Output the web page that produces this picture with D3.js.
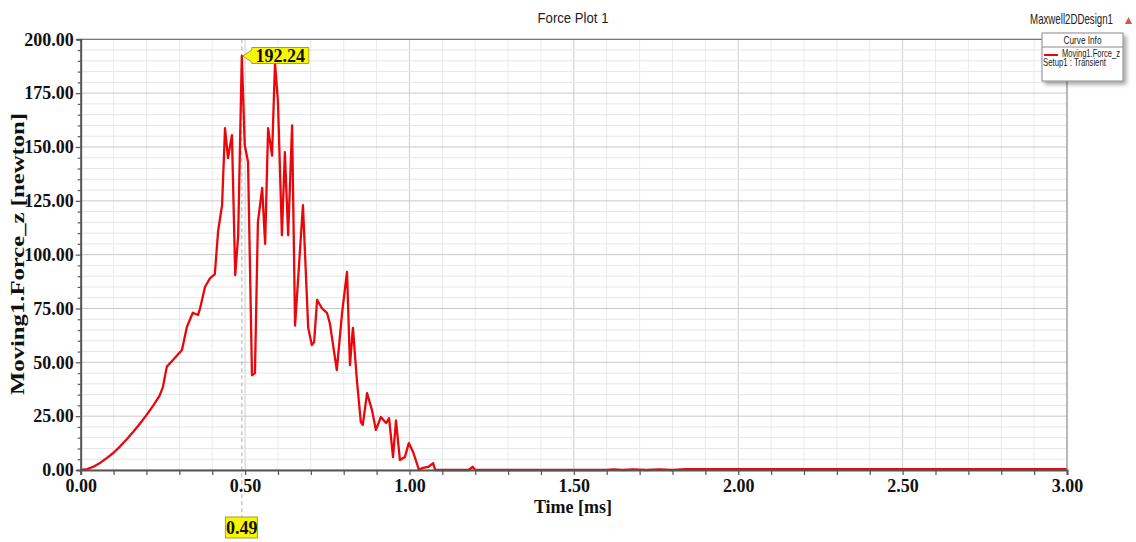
<!DOCTYPE html>
<html>
<head>
<meta charset="utf-8">
<script src="https://cdn.jsdelivr.net/npm/d3@7"></script>
<style>
  html, body { margin: 0; padding: 0; background: #ffffff; }
  svg { display: block; }
</style>
</head>
<body>
<svg id="chart" width="1136" height="542"></svg>
<script>
// Transient force on Moving1 (z component) over time
const timeMs = [
  0.000, 0.020, 0.040, 0.060, 0.080, 0.100, 0.120, 0.140, 0.160, 0.180,
  0.200, 0.220, 0.240, 0.250, 0.262, 0.280, 0.308,
  0.323, 0.341, 0.357, 0.363, 0.378, 0.393, 0.408, 0.418, 0.430, 0.439,
  0.448, 0.460, 0.470, 0.479, 0.490, 0.499, 0.509, 0.521, 0.530, 0.539,
  0.552, 0.561, 0.570, 0.582, 0.591, 0.600, 0.612, 0.621, 0.631, 0.643,
  0.652, 0.676, 0.692, 0.703, 0.710, 0.719, 0.734, 0.749, 0.758, 0.779,
  0.795, 0.810, 0.819, 0.828, 0.840, 0.852, 0.858, 0.871, 0.886, 0.898,
  0.913, 0.929, 0.938, 0.950, 0.959, 0.971, 0.986, 0.998, 1.011, 1.029,
  1.041, 1.057, 1.072, 1.078, 1.100, 1.180, 1.192, 1.200, 1.600, 1.620,
  1.650, 1.680, 1.720, 1.760, 1.800, 1.840, 3.000
];
const forceN = [
  0.0, 0.4, 1.6, 3.4, 5.6, 8.0, 11.0, 14.3, 17.8, 21.5,
  25.5, 29.8, 34.5, 38.5, 48.0, 51.0, 55.7,
  66.4, 73.0, 72.0, 75.0, 85.0, 89.0, 91.0, 111.0, 123.0, 158.7,
  144.8, 155.5, 90.5, 109.0, 192.24, 150.8, 143.0, 44.0, 45.0, 115.0,
  131.0, 105.0, 158.7, 146.0, 189.0, 171.0, 109.0, 147.6, 109.0, 160.0,
  67.0, 123.0, 66.0, 58.0, 59.4, 79.0, 75.0, 73.0, 68.0, 46.4,
  73.0, 92.0, 48.7, 66.0, 41.8, 22.3, 21.0, 35.7, 27.8, 18.6,
  24.6, 21.8, 24.0, 6.0, 23.0, 4.6, 6.0, 12.5, 8.4, 0.0,
  1.0, 1.4, 3.2, 0.0, 0.0, 0.0, 1.5, 0.0, 0.0, 0.3,
  0.0, 0.3, 0.0, 0.3, 0.0, 0.4, 0.4
];

const xTickValues = [0, 0.5, 1.0, 1.5, 2.0, 2.5, 3.0];
const xTickLabels = ["0.00", "0.50", "1.00", "1.50", "2.00", "2.50", "3.00"];
const yTickValues = [0, 25, 50, 75, 100, 125, 150, 175, 200];
const yTickLabels = ["0.00", "25.00", "50.00", "75.00", "100.00", "125.00", "150.00", "175.00", "200.00"];

const chartTitle = "Force Plot 1";
const designName = "Maxwell2DDesign1";
const xTitle = "Time [ms]";
const yTitle = "Moving1.Force_z [newton]";
const legendHeader = "Curve Info";
const legendSeries = "Moving1.Force_z";
const legendSetup = "Setup1 : Transient";

// Marker placed on the largest force sample
const peakIndex = d3.maxIndex(forceN);
const markerTime = timeMs[peakIndex];
const markerValue = forceN[peakIndex];

const svg = d3.select("#chart");
const plotLeft = 80.7, plotRight = 1067, plotTop = 39.3, plotBottom = 470;

const x = d3.scaleLinear().domain([0, 3]).range([plotLeft, plotRight]);
const y = d3.scaleLinear().domain([0, 200]).range([plotBottom, plotTop]);

const sans = "'Liberation Sans', Arial, sans-serif";
const serif = "'Liberation Serif', 'Times New Roman', serif";

// Grid: minor and major lines
const grid = svg.append("g");
grid.selectAll("line.v").data(d3.range(0, 31).map(i => i / 10))
  .join("line")
  .attr("x1", d => x(d)).attr("x2", d => x(d))
  .attr("y1", plotTop).attr("y2", plotBottom)
  .attr("stroke", d => (Math.round(d * 10) % 5 === 0) ? "#cfcfcf" : "#ebebeb")
  .attr("stroke-width", 1);
grid.selectAll("line.h").data(d3.range(0, 41).map(i => i * 5))
  .join("line")
  .attr("x1", plotLeft).attr("x2", plotRight)
  .attr("y1", d => y(d)).attr("y2", d => y(d))
  .attr("stroke", d => (d % 25 === 0) ? "#c9c9c9" : "#e6e6e6")
  .attr("stroke-width", 1);

// Marker guide line
svg.append("line")
  .attr("x1", x(markerTime)).attr("x2", x(markerTime))
  .attr("y1", plotTop).attr("y2", 518)
  .attr("stroke", "#bdbdbd").attr("stroke-width", 1.2)
  .attr("stroke-dasharray", "4,3");

// Force curve
const line = d3.line().x((d, i) => x(timeMs[i])).y(d => y(d));
svg.append("path")
  .datum(forceN)
  .attr("d", line)
  .attr("fill", "none")
  .attr("stroke", "#e8080c")
  .attr("stroke-width", 2.3)
  .attr("stroke-linejoin", "round");

// Frame
svg.append("line").attr("x1", plotLeft).attr("x2", plotRight).attr("y1", plotTop).attr("y2", plotTop)
  .attr("stroke", "#7a7a7a").attr("stroke-width", 1.3);
svg.append("line").attr("x1", plotRight).attr("x2", plotRight).attr("y1", plotTop).attr("y2", plotBottom)
  .attr("stroke", "#9a9a9a").attr("stroke-width", 1.2);

// Axes
const xAxis = d3.axisBottom(x)
  .tickValues(d3.range(0, 31).map(i => i / 10))
  .tickSize(5)
  .tickFormat(d => {
    const k = xTickValues.findIndex(v => Math.abs(v - d) < 1e-9);
    return k >= 0 ? xTickLabels[k] : "";
  });
const gx = svg.append("g").attr("transform", `translate(0,${plotBottom})`).call(xAxis);
gx.select(".domain").attr("stroke", "#555").attr("stroke-width", 2);
gx.selectAll(".tick line").attr("stroke", "#555").attr("stroke-width", 1.2);
gx.selectAll(".tick text")
  .attr("y", 9).attr("dy", "0.71em")
  .attr("fill", "#111")
  .style("font-family", serif).style("font-weight", "bold").style("font-size", "18px");

const yAxis = d3.axisLeft(y)
  .tickValues(d3.range(0, 41).map(i => i * 5))
  .tickSize(4)
  .tickFormat(d => {
    const k = yTickValues.indexOf(d);
    return k >= 0 ? yTickLabels[k] : "";
  });
const gy = svg.append("g").attr("transform", `translate(${plotLeft},0)`).call(yAxis);
gy.select(".domain").attr("stroke", "#555").attr("stroke-width", 2);
gy.selectAll(".tick line").attr("stroke", "#555").attr("stroke-width", 1.2)
  .attr("x2", d => (d % 25 === 0) ? -5 : -3);
gy.selectAll(".tick text")
  .attr("x", -7)
  .attr("fill", "#111")
  .style("font-family", serif).style("font-weight", "bold").style("font-size", "18px");

// Horizontally condensed sans text: squeezed to a given width
function narrowText(parent, str, xPos, yPos, size, width, anchor) {
  const g = parent.append("g");
  const t = g.append("text")
    .attr("x", 0).attr("y", 0)
    .attr("text-anchor", anchor)
    .style("font-family", sans).style("font-size", size + "px")
    .attr("fill", "#222")
    .text(str);
  const natural = t.node().getComputedTextLength();
  const sx = natural > 0 ? width / natural : 1;
  g.attr("transform", `translate(${xPos},${yPos}) scale(${sx},1)`);
  return g;
}

// Titles
narrowText(svg, chartTitle, 573, 23, 14, 71, "middle");
narrowText(svg, designName, 1113, 24, 14, 83, "end");
svg.append("path")
  .attr("d", "M1125,24 L1128.5,17 L1132,24 Z")
  .attr("fill", "#d9534f");

svg.append("text")
  .attr("x", 573).attr("y", 513)
  .attr("text-anchor", "middle")
  .style("font-family", serif).style("font-weight", "bold").style("font-size", "18px")
  .attr("fill", "#111")
  .text(xTitle);

svg.append("text")
  .attr("transform", "translate(24,254) rotate(-90)")
  .attr("text-anchor", "middle")
  .attr("textLength", 282).attr("lengthAdjust", "spacingAndGlyphs")
  .style("font-family", serif).style("font-weight", "bold").style("font-size", "19px")
  .attr("fill", "#111")
  .text(yTitle);

// Legend box with soft shadow
const defs = svg.append("defs");
const f = defs.append("filter").attr("id", "shadow").attr("x", "-10%").attr("y", "-10%")
  .attr("width", "130%").attr("height", "130%");
f.append("feDropShadow").attr("dx", 3).attr("dy", 3).attr("stdDeviation", 2)
  .attr("flood-color", "#000").attr("flood-opacity", 0.35);

const lg = svg.append("g").attr("transform", "translate(1042,33)");
lg.append("rect").attr("width", 81).attr("height", 48)
  .attr("fill", "#fff").attr("stroke", "#8a8a8a").attr("stroke-width", 1)
  .attr("filter", "url(#shadow)");
narrowText(lg, legendHeader, 40.5, 11, 10, 38, "middle");
lg.append("line").attr("x1", 0).attr("x2", 81).attr("y1", 14).attr("y2", 14)
  .attr("stroke", "#8a8a8a").attr("stroke-width", 1);
lg.append("line").attr("x1", 2).attr("x2", 16).attr("y1", 22).attr("y2", 22)
  .attr("stroke", "#e8080c").attr("stroke-width", 2);
narrowText(lg, legendSeries, 20, 24, 10, 58, "start");
narrowText(lg, legendSetup, 1, 33, 10, 63, "start");

// Peak value callout
const px = x(markerTime), py = y(markerValue);
const vText = markerValue.toFixed(2);
const callout = svg.append("g");
callout.append("path")
  .attr("d", `M${px + 1},${py} L${px + 10},${py - 6} L${px + 10},${py - 8.5} L${px + 67},${py - 8.5} L${px + 67},${py + 7.5} L${px + 10},${py + 7.5} L${px + 10},${py + 6} Z`)
  .attr("fill", "#f7f700").attr("stroke", "#8a8a20").attr("stroke-width", 0.8);
callout.append("text")
  .attr("x", px + 38.5).attr("y", py + 6)
  .attr("text-anchor", "middle")
  .style("font-family", serif).style("font-weight", "bold").style("font-size", "18px")
  .attr("fill", "#111")
  .text(vText);

// Time readout under the axis
const tText = markerTime.toFixed(2);
svg.append("rect")
  .attr("x", px - 16.5).attr("y", 517).attr("width", 32).attr("height", 21)
  .attr("fill", "#f7f700").attr("stroke", "#8a8a20").attr("stroke-width", 0.8);
svg.append("text")
  .attr("x", px).attr("y", 533.5)
  .attr("text-anchor", "middle")
  .style("font-family", serif).style("font-weight", "bold").style("font-size", "18px")
  .attr("fill", "#111")
  .text(tText);
</script>
</body>
</html>
